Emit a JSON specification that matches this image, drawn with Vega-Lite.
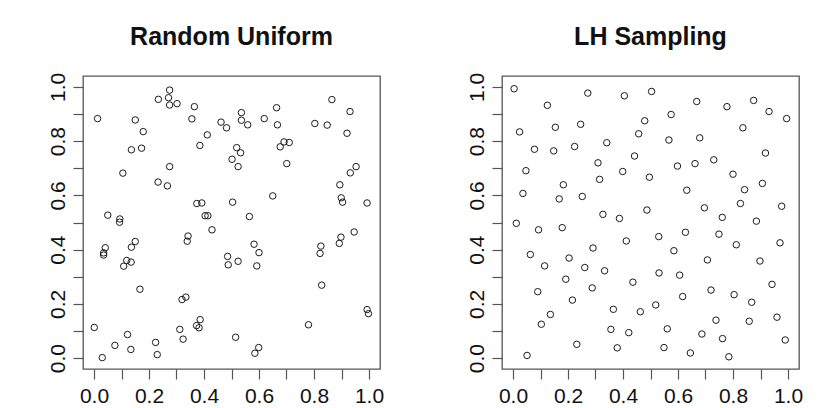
{
  "$schema": "https://vega.github.io/schema/vega-lite/v6.json",
  "padding": {"left": 46, "top": 24, "right": 5, "bottom": 0},
  "bounds": "flush",
  "spacing": 122,
  "config": {
    "font": "Liberation Sans",
    "view": {"stroke": "#555555", "strokeWidth": 1.3},
    "axis": {
      "domain": false,
      "grid": false,
      "ticks": true,
      "tickSize": 10,
      "tickColor": "#555555",
      "tickWidth": 1.2,
      "labelFont": "Liberation Sans",
      "labelFontSize": 21,
      "labelColor": "#111111",
      "labelPadding": 6,
      "title": null,
      "values": [0, 0.2, 0.4, 0.6, 0.8, 1.0],
      "format": ".1f"
    },
    "axisY": {"labelAngle": 270, "labelAlign": "center", "labelBaseline": "alphabetic", "labelPadding": 9},
    "axisX": {"labelBaseline": "top", "labelAlign": "center", "labelAngle": 0},
    "title": {
      "font": "Liberation Sans",
      "fontSize": 25,
      "fontWeight": "bold",
      "color": "#111111",
      "anchor": "middle",
      "baseline": "alphabetic",
      "offset": 22
    },
    "point": {"shape": "circle", "filled": false, "size": 42, "strokeWidth": 1, "color": "#1a1a1a", "opacity": 1}
  },
  "datasets": {
    "uniform": [
      {"x": 0.013, "y": 0.883}, {"x": 0.275, "y": 0.988}, {"x": 0.234, "y": 0.954}, {"x": 0.271, "y": 0.960},
      {"x": 0.275, "y": 0.933}, {"x": 0.302, "y": 0.938}, {"x": 0.365, "y": 0.927}, {"x": 0.356, "y": 0.882},
      {"x": 0.150, "y": 0.878}, {"x": 0.179, "y": 0.835}, {"x": 0.136, "y": 0.768}, {"x": 0.173, "y": 0.774},
      {"x": 0.275, "y": 0.706}, {"x": 0.105, "y": 0.682}, {"x": 0.233, "y": 0.649}, {"x": 0.267, "y": 0.635},
      {"x": 0.385, "y": 0.784}, {"x": 0.412, "y": 0.823}, {"x": 0.462, "y": 0.870}, {"x": 0.482, "y": 0.849},
      {"x": 0.536, "y": 0.905}, {"x": 0.536, "y": 0.877}, {"x": 0.559, "y": 0.860}, {"x": 0.619, "y": 0.883},
      {"x": 0.664, "y": 0.923}, {"x": 0.667, "y": 0.860}, {"x": 0.519, "y": 0.776}, {"x": 0.533, "y": 0.757},
      {"x": 0.502, "y": 0.733}, {"x": 0.524, "y": 0.706}, {"x": 0.677, "y": 0.779}, {"x": 0.691, "y": 0.797},
      {"x": 0.710, "y": 0.795}, {"x": 0.701, "y": 0.717}, {"x": 0.650, "y": 0.598}, {"x": 0.803, "y": 0.865},
      {"x": 0.848, "y": 0.859}, {"x": 0.865, "y": 0.953}, {"x": 0.931, "y": 0.909}, {"x": 0.920, "y": 0.829},
      {"x": 0.953, "y": 0.706}, {"x": 0.932, "y": 0.683}, {"x": 0.894, "y": 0.639}, {"x": 0.899, "y": 0.591},
      {"x": 0.904, "y": 0.575}, {"x": 0.993, "y": 0.572}, {"x": 0.946, "y": 0.465}, {"x": 0.898, "y": 0.446},
      {"x": 0.892, "y": 0.423}, {"x": 0.825, "y": 0.413}, {"x": 0.822, "y": 0.386}, {"x": 0.828, "y": 0.269},
      {"x": 0.780, "y": 0.123}, {"x": 0.993, "y": 0.179}, {"x": 0.998, "y": 0.164}, {"x": 0.050, "y": 0.527},
      {"x": 0.094, "y": 0.513}, {"x": 0.093, "y": 0.501}, {"x": 0.041, "y": 0.407}, {"x": 0.035, "y": 0.388},
      {"x": 0.035, "y": 0.380}, {"x": 0.150, "y": 0.430}, {"x": 0.136, "y": 0.409}, {"x": 0.119, "y": 0.360},
      {"x": 0.135, "y": 0.354}, {"x": 0.108, "y": 0.339}, {"x": 0.167, "y": 0.254}, {"x": 0.374, "y": 0.570},
      {"x": 0.392, "y": 0.572}, {"x": 0.404, "y": 0.525}, {"x": 0.414, "y": 0.525}, {"x": 0.429, "y": 0.473},
      {"x": 0.342, "y": 0.450}, {"x": 0.339, "y": 0.431}, {"x": 0.504, "y": 0.575}, {"x": 0.565, "y": 0.522},
      {"x": 0.486, "y": 0.375}, {"x": 0.488, "y": 0.344}, {"x": 0.524, "y": 0.357}, {"x": 0.582, "y": 0.420},
      {"x": 0.600, "y": 0.389}, {"x": 0.592, "y": 0.340}, {"x": 0.320, "y": 0.216}, {"x": 0.334, "y": 0.225},
      {"x": 0.001, "y": 0.113}, {"x": 0.030, "y": 0.002}, {"x": 0.076, "y": 0.047}, {"x": 0.122, "y": 0.087},
      {"x": 0.134, "y": 0.032}, {"x": 0.224, "y": 0.058}, {"x": 0.230, "y": 0.013}, {"x": 0.312, "y": 0.106},
      {"x": 0.324, "y": 0.070}, {"x": 0.373, "y": 0.120}, {"x": 0.386, "y": 0.142}, {"x": 0.382, "y": 0.112},
      {"x": 0.515, "y": 0.077}, {"x": 0.585, "y": 0.018}, {"x": 0.599, "y": 0.039}
    ],
    "lhs": [
      {"x": 0.004, "y": 0.993}, {"x": 0.024, "y": 0.834}, {"x": 0.078, "y": 0.770}, {"x": 0.047, "y": 0.691},
      {"x": 0.036, "y": 0.607}, {"x": 0.012, "y": 0.497}, {"x": 0.063, "y": 0.382}, {"x": 0.115, "y": 0.340},
      {"x": 0.090, "y": 0.245}, {"x": 0.103, "y": 0.125}, {"x": 0.136, "y": 0.161}, {"x": 0.051, "y": 0.010},
      {"x": 0.125, "y": 0.932}, {"x": 0.154, "y": 0.851}, {"x": 0.148, "y": 0.764}, {"x": 0.093, "y": 0.473},
      {"x": 0.183, "y": 0.639}, {"x": 0.168, "y": 0.587}, {"x": 0.179, "y": 0.481}, {"x": 0.204, "y": 0.369},
      {"x": 0.192, "y": 0.291}, {"x": 0.216, "y": 0.214}, {"x": 0.232, "y": 0.051}, {"x": 0.272, "y": 0.977},
      {"x": 0.246, "y": 0.862}, {"x": 0.224, "y": 0.780}, {"x": 0.252, "y": 0.596}, {"x": 0.261, "y": 0.334},
      {"x": 0.288, "y": 0.259}, {"x": 0.291, "y": 0.406}, {"x": 0.309, "y": 0.720}, {"x": 0.315, "y": 0.659},
      {"x": 0.341, "y": 0.794}, {"x": 0.327, "y": 0.530}, {"x": 0.333, "y": 0.322}, {"x": 0.365, "y": 0.180},
      {"x": 0.356, "y": 0.106}, {"x": 0.379, "y": 0.038}, {"x": 0.387, "y": 0.515}, {"x": 0.405, "y": 0.967},
      {"x": 0.399, "y": 0.688}, {"x": 0.412, "y": 0.432}, {"x": 0.421, "y": 0.094}, {"x": 0.442, "y": 0.745},
      {"x": 0.457, "y": 0.827}, {"x": 0.479, "y": 0.875}, {"x": 0.436, "y": 0.280}, {"x": 0.463, "y": 0.171},
      {"x": 0.496, "y": 0.667}, {"x": 0.487, "y": 0.546}, {"x": 0.504, "y": 0.983}, {"x": 0.530, "y": 0.448},
      {"x": 0.531, "y": 0.314}, {"x": 0.519, "y": 0.196}, {"x": 0.549, "y": 0.039}, {"x": 0.561, "y": 0.108},
      {"x": 0.575, "y": 0.898}, {"x": 0.567, "y": 0.804}, {"x": 0.585, "y": 0.396}, {"x": 0.598, "y": 0.708},
      {"x": 0.606, "y": 0.306}, {"x": 0.617, "y": 0.227}, {"x": 0.645, "y": 0.019}, {"x": 0.632, "y": 0.619},
      {"x": 0.627, "y": 0.464}, {"x": 0.662, "y": 0.717}, {"x": 0.668, "y": 0.946}, {"x": 0.679, "y": 0.812},
      {"x": 0.696, "y": 0.554}, {"x": 0.707, "y": 0.362}, {"x": 0.687, "y": 0.089}, {"x": 0.730, "y": 0.731},
      {"x": 0.720, "y": 0.251}, {"x": 0.738, "y": 0.140}, {"x": 0.749, "y": 0.457}, {"x": 0.761, "y": 0.519},
      {"x": 0.778, "y": 0.927}, {"x": 0.762, "y": 0.072}, {"x": 0.785, "y": 0.005}, {"x": 0.800, "y": 0.678},
      {"x": 0.812, "y": 0.418}, {"x": 0.804, "y": 0.234}, {"x": 0.836, "y": 0.849}, {"x": 0.842, "y": 0.621},
      {"x": 0.827, "y": 0.570}, {"x": 0.868, "y": 0.206}, {"x": 0.859, "y": 0.136}, {"x": 0.875, "y": 0.950},
      {"x": 0.885, "y": 0.505}, {"x": 0.898, "y": 0.358}, {"x": 0.907, "y": 0.644}, {"x": 0.918, "y": 0.756},
      {"x": 0.931, "y": 0.909}, {"x": 0.942, "y": 0.272}, {"x": 0.960, "y": 0.151}, {"x": 0.977, "y": 0.560},
      {"x": 0.971, "y": 0.425}, {"x": 0.995, "y": 0.883}, {"x": 0.990, "y": 0.067}
    ]
  },
  "hconcat": [
    {
      "title": "Random Uniform",
      "width": 297,
      "height": 293,
      "data": {"name": "uniform"},
      "mark": {"type": "point"},
      "encoding": {
        "x": {"field": "x", "type": "quantitative", "scale": {"domain": [-0.04, 1.04], "nice": false, "zero": false}},
        "y": {"field": "y", "type": "quantitative", "scale": {"domain": [-0.04, 1.04], "nice": false, "zero": false}}
      }
    },
    {
      "title": "LH Sampling",
      "width": 297,
      "height": 293,
      "data": {"name": "lhs"},
      "mark": {"type": "point"},
      "encoding": {
        "x": {"field": "x", "type": "quantitative", "scale": {"domain": [-0.04, 1.04], "nice": false, "zero": false}},
        "y": {"field": "y", "type": "quantitative", "scale": {"domain": [-0.04, 1.04], "nice": false, "zero": false}}
      }
    }
  ]
}
